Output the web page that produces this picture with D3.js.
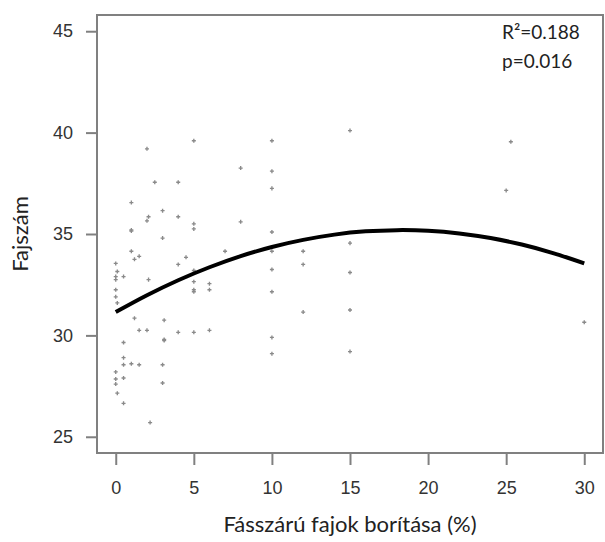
<!DOCTYPE html>
<html>
<head>
<meta charset="utf-8">
<script src="https://cdn.jsdelivr.net/npm/d3@7"></script>
<style>
  body { margin: 0; background: #fff; }
  svg { display: block; }
</style>
</head>
<body>
<div id="chart"></div>
<script>
// cover of woody species (%) and species number
var coverX = [5, 2, 2.5, 4, 1, 3, 2.1, 4, 2, 5, 5, 1, 1, 3, 1, 1.5, 1.2, 4.5, 0, 4,
  5, 0.1, 0, 0, 0.5, 2.1, 5, 5, 5, 6, 6, 0, 0, 0.1, 1.2, 3.1, 1.5, 2, 4, 5,
  6, 3.1, 3.1, 0.5, 0, 0.5, 0.5, 1, 1.5, 3, 0, 0.5, 0, 3, 0.1, 0.5, 2.2,
  15, 10, 8, 10, 10, 8, 10, 15, 7, 10, 12, 12, 10, 15, 10, 12, 15, 10, 10, 15,
  25.3, 25, 30];
var speciesY = [39.6, 39.2, 37.55, 37.55, 36.55, 36.15, 35.85, 35.85, 35.65, 35.5, 35.25, 35.2, 35.15, 34.8, 34.15, 33.9, 33.75, 33.85, 33.55, 33.5,
  33.2, 33.15, 32.9, 32.75, 32.9, 32.75, 32.65, 32.25, 32.15, 32.55, 32.25, 32.25, 31.9, 31.6, 30.85, 30.75, 30.25, 30.25, 30.15, 30.15,
  30.25, 29.75, 29.8, 29.65, 28.2, 28.9, 28.55, 28.6, 28.55, 28.55, 27.85, 27.9, 27.6, 27.65, 27.15, 26.65, 25.7,
  40.1, 39.6, 38.25, 38.1, 37.25, 35.6, 35.1, 34.55, 34.15, 34.15, 34.15, 33.5, 33.25, 33.1, 32.15, 31.15, 31.25, 29.9, 29.1, 29.2,
  39.55, 37.15, 30.65];

// quadratic fit line
var fitX = [0, 2, 4, 6, 8, 10, 12, 14, 16, 18, 20, 22, 24, 26, 28, 30];
var fitY = [31.15, 31.98, 32.72, 33.36, 33.91, 34.36, 34.71, 34.97, 35.13, 35.19, 35.16, 35.03, 34.80, 34.48, 34.06, 33.55];

var xTicks = [0, 5, 10, 15, 20, 25, 30];
var yTicks = [25, 30, 35, 40, 45];
var statLines = ["R²=0.188", "p=0.016"];
var xTitle = "Fásszárú fajok borítása (%)";
var yTitle = "Fajszám";

var width = 605, height = 542;
// plot box (don't call it "top", that's window.top)
var boxL = 97, boxR = 603, boxT = 15, boxB = 453;
var axisCol = "#808080";

var svg = d3.select("#chart").append("svg")
    .attr("width", width)
    .attr("height", height);

var x = d3.scaleLinear().domain([-1.2, 31.2]).range([boxL, boxR]);
var y = d3.scaleLinear().domain([24.2, 45.8]).range([boxB, boxT]);

// axes (R style: ticks outside the box)
var xAxis = svg.append("g")
    .attr("transform", "translate(0," + boxB + ")")
    .call(d3.axisBottom(x).tickValues(xTicks).tickSize(12).tickPadding(16));
var yAxis = svg.append("g")
    .attr("transform", "translate(" + boxL + ",0)")
    .call(d3.axisLeft(y).tickValues(yTicks).tickSize(11).tickPadding(13));

[xAxis, yAxis].forEach(function(a){
    a.select(".domain").remove();
    a.selectAll(".tick line").attr("stroke", axisCol).attr("stroke-width", 2);
    a.selectAll(".tick text")
        .attr("fill", "#333")
        .style("font-family", "'Liberation Sans', Arial, sans-serif")
        .style("font-size", "18px");
});

// box
svg.append("rect")
    .attr("x", boxL).attr("y", boxT)
    .attr("width", boxR - boxL).attr("height", boxB - boxT)
    .attr("fill", "none")
    .attr("stroke", axisCol)
    .attr("stroke-width", 2);

// points
var pts = d3.range(coverX.length).map(function(i){ return [coverX[i], speciesY[i]]; });
var cross = d3.symbol().type(d3.symbolCross).size(9);
svg.append("g").selectAll("path")
    .data(pts)
    .enter()
    .append("path")
    .attr("d", cross)
    .attr("transform", function(d){ return "translate(" + x(d[0]) + "," + y(d[1]) + ")"; })
    .attr("fill", "#8a8a8a");

// fitted curve
var fit = fitX.map(function(v, i){ return [v, fitY[i]]; });
svg.append("path")
    .datum(fit)
    .attr("d", d3.line()
        .x(function(d){ return x(d[0]); })
        .y(function(d){ return y(d[1]); })
        .curve(d3.curveCatmullRom))
    .attr("fill", "none")
    .attr("stroke", "#000")
    .attr("stroke-width", 4);

// R2 and p
svg.append("g").selectAll("text")
    .data(statLines)
    .enter()
    .append("text")
    .attr("x", 502)
    .attr("y", function(d, i){ return 39 + i * 29; })
    .text(function(d){ return d; })
    .attr("fill", "#222")
    .style("font-family", "Lato, 'Noto Sans', sans-serif")
    .style("font-size", "19px");

// axis titles
svg.append("text")
    .attr("x", (boxL + boxR) / 2)
    .attr("y", 532)
    .attr("text-anchor", "middle")
    .attr("fill", "#222")
    .style("font-family", "Lato, 'Noto Sans', sans-serif")
    .style("font-size", "22px")
    .text(xTitle);

svg.append("text")
    .attr("transform", "translate(28," + (boxT + boxB) / 2 + ") rotate(-90)")
    .attr("text-anchor", "middle")
    .attr("fill", "#222")
    .style("font-family", "Lato, 'Noto Sans', sans-serif")
    .style("font-size", "22px")
    .text(yTitle);
</script>
</body>
</html>
